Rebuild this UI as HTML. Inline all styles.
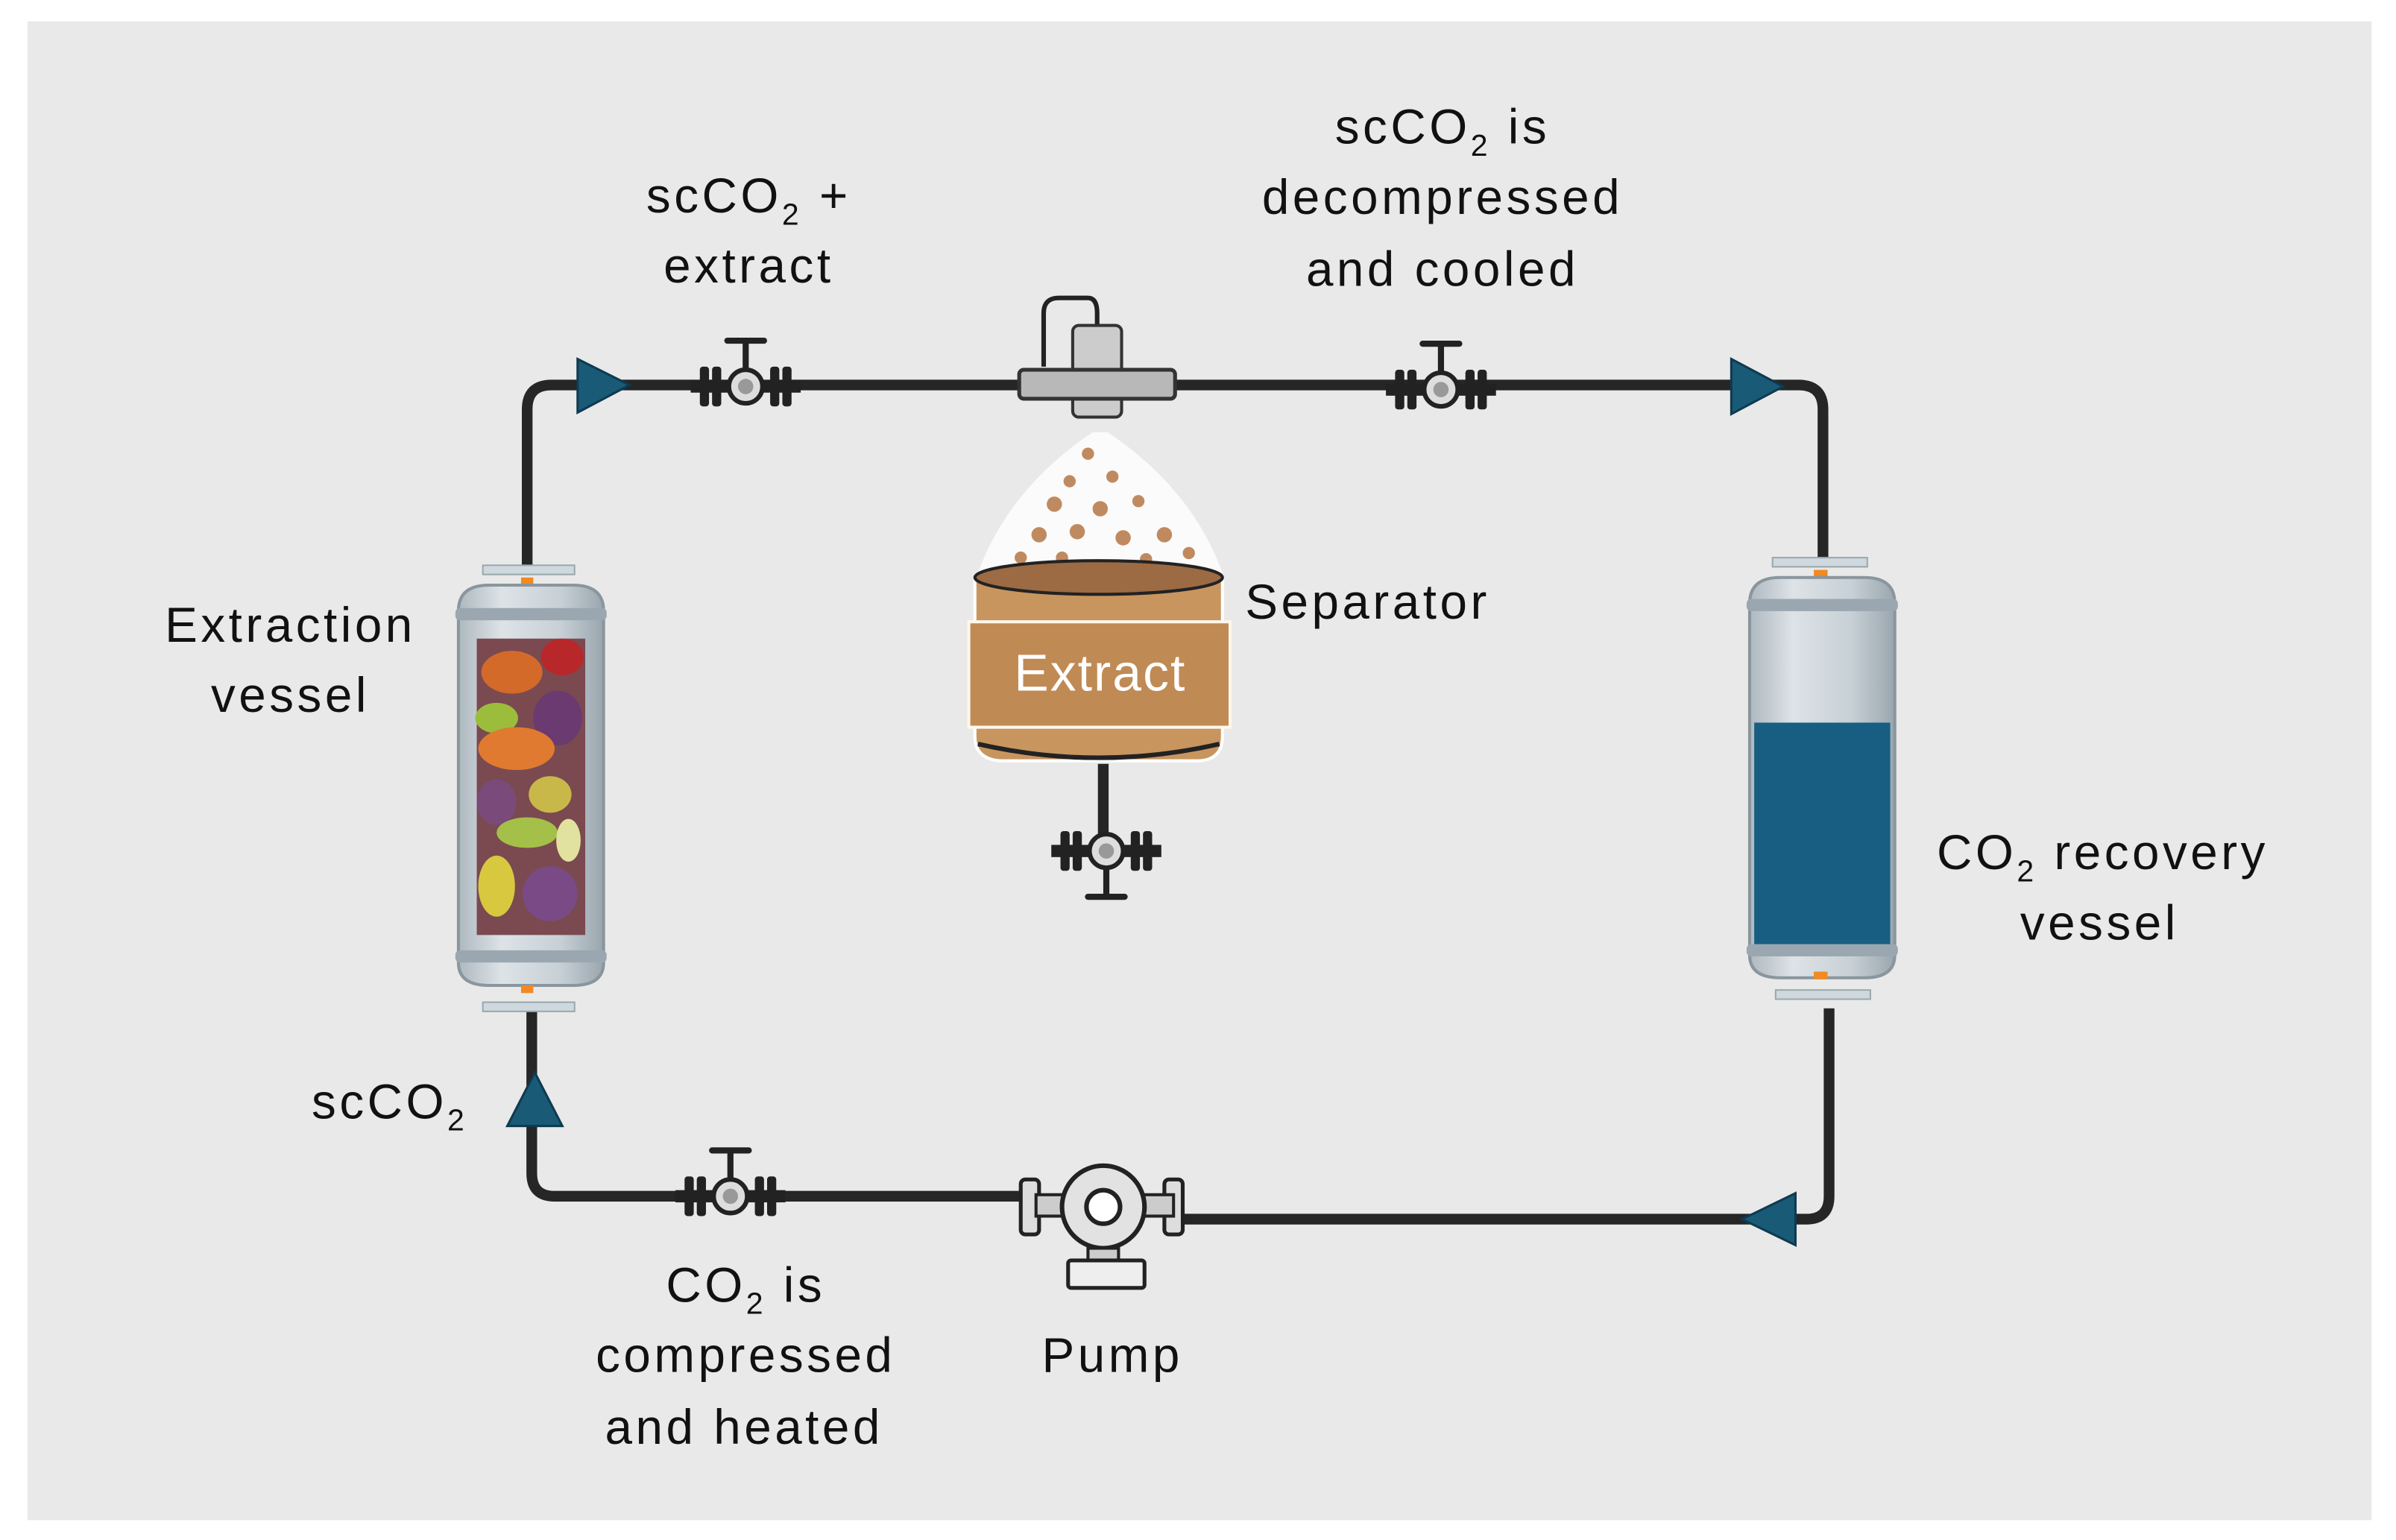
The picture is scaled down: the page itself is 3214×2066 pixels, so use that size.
<!DOCTYPE html>
<html><head><meta charset="utf-8"><style>
html,body{margin:0;padding:0;background:#fff}
svg{display:block}
text{font-family:"Liberation Sans",sans-serif;fill:#111}
</style></head><body>
<svg width="3214" height="2066" viewBox="0 0 1568 1008" preserveAspectRatio="none" xmlns="http://www.w3.org/2000/svg">
<defs>
<g id="valve">
  <rect x="-36" y="-4" width="72" height="8" fill="#222"/>
  <rect x="-30" y="-13" width="6" height="26" rx="2" fill="#222"/>
  <rect x="-22" y="-13" width="6" height="26" rx="2" fill="#222"/>
  <rect x="16" y="-13" width="6" height="26" rx="2" fill="#222"/>
  <rect x="24" y="-13" width="6" height="26" rx="2" fill="#222"/>
  <circle cx="0" cy="0" r="11" fill="#ddd" stroke="#222" stroke-width="3"/>
  <circle cx="0" cy="0" r="5" fill="#999"/>
  <rect x="-2" y="-30" width="4" height="18" fill="#222"/>
  <rect x="-14" y="-32" width="28" height="4" rx="2" fill="#222"/>
</g>
<linearGradient id="glass" x1="0" x2="1"><stop offset="0" stop-color="#aeb8bf"/><stop offset=".3" stop-color="#dde3e7"/><stop offset=".7" stop-color="#c7d0d6"/><stop offset="1" stop-color="#9aa6ae"/></linearGradient>
</defs>
<rect x="18" y="14" width="1534" height="981" fill="#e9e9e9"/>
<g fill="none" stroke="#262626" stroke-width="7">
  <path d="M345 372 V268 Q345 252 361 252 H1177 Q1193 252 1193 268 V368"/>
  <path d="M348 660 V768 Q348 783 363 783 H670"/>
  <path d="M775 798 H1182 Q1197 798 1197 783 V660"/>
  <path d="M722 500 V560"/>
</g>
<g fill="#195a77" stroke="#0f3a50" stroke-width="1.5">
  <polygon points="378,235 412,252 378,270"/>
  <polygon points="1133,235 1167,253 1133,271"/>
  <polygon points="1175,781 1140,798 1175,815"/>
  <polygon points="332,737 350,702 368,737"/>
</g>
<use href="#valve" x="488" y="253"/>
<use href="#valve" x="943" y="255"/>
<use href="#valve" x="478" y="783"/>
<g transform="translate(724 557) rotate(180)"><use href="#valve"/></g>
<path d="M683 240 V205 Q683 195 693 195 H712 Q718 195 718 205 V215" fill="none" stroke="#222" stroke-width="3"/>
<rect x="702" y="213" width="32" height="60" rx="4" fill="#ccc" stroke="#333" stroke-width="2"/>
<rect x="667" y="242" width="102" height="19" rx="3" fill="#b8b8b8" stroke="#333" stroke-width="2.5"/>
<path d="M715 283 Q660 320 640 375 H800 Q780 320 725 283 Z" fill="#fbfbfb"/>
<g fill="#c08a60">
<circle cx="712" cy="297" r="4"/><circle cx="700" cy="315" r="4"/><circle cx="728" cy="312" r="4"/>
<circle cx="690" cy="330" r="5"/><circle cx="720" cy="333" r="5"/><circle cx="745" cy="328" r="4"/>
<circle cx="680" cy="350" r="5"/><circle cx="705" cy="348" r="5"/><circle cx="735" cy="352" r="5"/><circle cx="762" cy="350" r="5"/>
<circle cx="668" cy="365" r="4"/><circle cx="695" cy="365" r="4"/><circle cx="750" cy="366" r="4"/><circle cx="778" cy="362" r="4"/>
</g>
<path d="M638 378 V482 Q638 497 655 498 H785 Q800 497 800 482 V378 Z" fill="#c8955f" stroke="#fff" stroke-width="2"/>
<ellipse cx="719" cy="378" rx="81" ry="11" fill="#9c6a43" stroke="#222" stroke-width="2"/>
<path d="M640 487 Q719 505 798 487" fill="none" stroke="#222" stroke-width="3"/>
<rect x="634" y="407" width="171" height="69" fill="#c08a55" stroke="#fff7ea" stroke-width="2"/>
<text x="720" y="452" text-anchor="middle" font-size="34" letter-spacing="1" style="fill:#fff">Extract</text>
<g>
<rect x="316" y="370" width="60" height="6" fill="#cfd8de" stroke="#9aa" />
<rect x="341" y="378" width="8" height="5" fill="#f08a24"/>
<path d="M300 400 Q300 383 320 383 H375 Q395 383 395 400 V630 Q395 645 375 645 H320 Q300 645 300 630 Z" fill="url(#glass)" stroke="#8a969e" stroke-width="2"/>
<rect x="298" y="398" width="99" height="8" rx="3" fill="#9aa7b0"/>
<rect x="298" y="622" width="99" height="8" rx="3" fill="#9aa7b0"/>
<rect x="312" y="418" width="71" height="194" fill="#7a4a50"/>
<g>
<ellipse cx="335" cy="440" rx="20" ry="14" fill="#d46a2a"/><ellipse cx="368" cy="430" rx="14" ry="12" fill="#b8282a"/>
<ellipse cx="325" cy="470" rx="14" ry="10" fill="#9bbd3b"/><ellipse cx="365" cy="470" rx="16" ry="18" fill="#6a3a70"/>
<ellipse cx="338" cy="490" rx="25" ry="14" fill="#e07a30"/><ellipse cx="325" cy="525" rx="13" ry="15" fill="#7a4a7a"/>
<ellipse cx="360" cy="520" rx="14" ry="12" fill="#c8b84a"/><ellipse cx="345" cy="545" rx="20" ry="10" fill="#a4c048"/>
<ellipse cx="325" cy="580" rx="12" ry="20" fill="#d8c840"/><ellipse cx="360" cy="585" rx="18" ry="18" fill="#7a4a86"/>
<ellipse cx="372" cy="550" rx="8" ry="14" fill="#e2e2a0"/>
</g>
<rect x="341" y="645" width="8" height="5" fill="#f08a24"/>
<rect x="316" y="656" width="60" height="6" fill="#cfd8de" stroke="#9aa"/>
</g>
<g>
<rect x="1160" y="365" width="62" height="6" fill="#cfd8de" stroke="#9aa"/>
<rect x="1187" y="373" width="9" height="5" fill="#f08a24"/>
<path d="M1145 395 Q1145 378 1165 378 H1220 Q1240 378 1240 395 V625 Q1240 640 1220 640 H1165 Q1145 640 1145 625 Z" fill="url(#glass)" stroke="#8a969e" stroke-width="2"/>
<rect x="1143" y="392" width="99" height="8" rx="3" fill="#9aa7b0"/>
<rect x="1148" y="473" width="89" height="147" fill="#175e82"/>
<rect x="1143" y="618" width="99" height="8" rx="3" fill="#9aa7b0"/>
<rect x="1187" y="636" width="9" height="5" fill="#f08a24"/>
<rect x="1162" y="648" width="62" height="6" fill="#cfd8de" stroke="#9aa"/>
</g>
<g>
<rect x="668" y="772" width="12" height="36" rx="3" fill="#ddd" stroke="#222" stroke-width="2.5"/>
<rect x="762" y="772" width="12" height="36" rx="3" fill="#ddd" stroke="#222" stroke-width="2.5"/>
<rect x="678" y="782" width="90" height="14" fill="#ccc" stroke="#222" stroke-width="2"/>
<circle cx="722" cy="790" r="27" fill="#e2e2e2" stroke="#222" stroke-width="3"/>
<circle cx="722" cy="790" r="11" fill="#fff" stroke="#222" stroke-width="3"/>
<rect x="712" y="817" width="20" height="10" fill="#ccc" stroke="#222" stroke-width="2"/>
<rect x="699" y="825" width="50" height="18" rx="2" fill="#eee" stroke="#222" stroke-width="2.5"/>
</g>
<g font-size="32" text-anchor="middle" letter-spacing="2.2">
<text x="190" y="420">Extraction</text>
<text x="190" y="466">vessel</text>
<text x="490" y="139">scCO<tspan font-size="20" dy="8">2</tspan><tspan dy="-8"> +</tspan></text>
<text x="490" y="185">extract</text>
<text x="944" y="94">scCO<tspan font-size="20" dy="8">2</tspan><tspan dy="-8"> is</tspan></text>
<text x="944" y="140">decompressed</text>
<text x="944" y="187">and cooled</text>
<text x="895" y="405">Separator</text>
<text x="1376" y="569">CO<tspan font-size="20" dy="8">2</tspan><tspan dy="-8"> recovery</tspan></text>
<text x="1374" y="615">vessel</text>
<text x="255" y="732">scCO<tspan font-size="20" dy="8">2</tspan></text>
<text x="488" y="852">CO<tspan font-size="20" dy="8">2</tspan><tspan dy="-8"> is</tspan></text>
<text x="488" y="898">compressed</text>
<text x="487" y="945">and heated</text>
<text x="728" y="898">Pump</text>
</g>
</svg>
</body></html>
